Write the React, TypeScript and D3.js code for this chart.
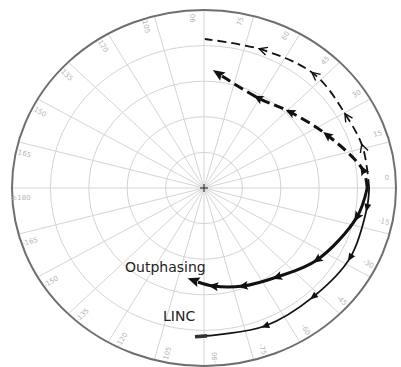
import * as d3 from 'd3';

// Polar grid: phase spokes (degrees) and normalised amplitude rings
const spokeAngles = [0, 15, 30, 45, 60, 75, 90, 105, 120, 135, 150, 165, 180, 195, 210, 225, 240, 255, 270, 285, 300, 315, 330, 345];
const spokeLabels = ['0', '15', '30', '45', '60', '75', '90', '105', '120', '135', '150', '165', '\u00b1180', '-165', '-150', '-135', '-120', '-105', '-90', '-75', '-60', '-45', '-30', '-15'];
const ringLevels = [0.2, 0.4, 0.6, 0.8];

// Trajectories (phase in degrees, normalised magnitude)
const lincUpperAngle = [0, 15.2, 28.2, 47.7, 68.4, 89.7];
const lincUpperRadius = [0.86, 0.858, 0.845, 0.859, 0.834, 0.837];
const lincLowerAngle = [0, -7.5, -27.3, -47.1, -67.7, -89.3];
const lincLowerRadius = [0.86, 0.856, 0.856, 0.835, 0.838, 0.831];
const outUpperAngle = [0, 7, 24.9, 43.6, 61, 81.5];
const outUpperRadius = [0.85, 0.834, 0.707, 0.619, 0.579, 0.636];
const outLowerAngle = [0, -11.6, -34.5, -52.8, -69.8, -85, -93.4];
const outLowerRadius = [0.85, 0.813, 0.714, 0.628, 0.587, 0.553, 0.529];

const W = 401;
const H = 367;
const cx = 204;
const cy = 188;
const rx = d3.scaleLinear().domain([0, 1]).range([0, 192]);
const ry = d3.scaleLinear().domain([0, 1]).range([0, 178]);

const px = (deg: number, r: number) => cx + rx(r) * Math.cos((deg * Math.PI) / 180);
const py = (deg: number, r: number) => cy - ry(r) * Math.sin((deg * Math.PI) / 180);

type P = [number, number];
const zipPts = (a: number[], r: number[]): P[] => a.map((d, i) => [d, r[i]] as P);

const lineGen = d3
  .line<P>()
  .x((d) => px(d[0], d[1]))
  .y((d) => py(d[0], d[1]))
  .curve(d3.curveCatmullRom.alpha(0.5));

export default function App() {
  const labelR = 0.955;
  return (
    <svg
      width={W}
      height={H}
      style={{ position: 'absolute', left: 0, top: 0, background: '#fff' }}
      fontFamily="DejaVu Sans, sans-serif"
    >
      <defs>
        <marker id="triBig" viewBox="-6 -5 12 10" refX={0} refY={0} markerWidth={12} markerHeight={10} markerUnits="userSpaceOnUse" orient="auto">
          <path d="M5,0 L-5,-4.5 L-3,0 L-5,4.5 Z" fill="#111" />
        </marker>
        <marker id="triEnd" viewBox="-2 -6 14 12" refX={0} refY={0} markerWidth={14} markerHeight={12} markerUnits="userSpaceOnUse" orient="auto">
          <path d="M11,0 L-1,-5 L1,0 L-1,5 Z" fill="#111" />
        </marker>
        <marker id="triSmall" viewBox="-5 -4 10 8" refX={0} refY={0} markerWidth={10} markerHeight={8} markerUnits="userSpaceOnUse" orient="auto">
          <path d="M4,0 L-4,-3.5 L-4,3.5 Z" fill="#111" />
        </marker>
        <marker id="chevron" viewBox="-6 -5 12 10" refX={0} refY={0} markerWidth={12} markerHeight={10} markerUnits="userSpaceOnUse" orient="auto">
          <path d="M-4,-4 L4,0 L-4,4" fill="none" stroke="#111" strokeWidth={1.4} />
        </marker>
        <marker id="barEnd" viewBox="-1 -3 16 6" refX={0} refY={0} markerWidth={16} markerHeight={6} markerUnits="userSpaceOnUse" orient="auto">
          <rect x={-1} y={-1.8} width={12} height={3.6} fill="#333" />
        </marker>
      </defs>

      {/* rings */}
      {ringLevels.map((r) => (
        <ellipse key={r} cx={cx} cy={cy} rx={rx(r)} ry={ry(r)} fill="none" stroke="#d4d4d4" strokeWidth={1} />
      ))}

      {/* spokes */}
      {spokeAngles.map((a) => (
        <line key={a} x1={cx} y1={cy} x2={px(a, 1)} y2={py(a, 1)} stroke="#d4d4d4" strokeWidth={1} />
      ))}

      {/* outer boundary */}
      <ellipse cx={cx} cy={cy} rx={rx(1)} ry={ry(1)} fill="none" stroke="#6e6e6e" strokeWidth={2} />

      {/* phase labels */}
      {spokeAngles.map((a, i) => {
        const la = a + 3.5;
        const x = px(la, labelR);
        const y = py(la, labelR);
        const norm = ((a % 360) + 360) % 360;
        const rot = norm > 90 && norm <= 270 ? 180 - a : -a;
        return (
          <text
            key={'l' + a}
            x={x}
            y={y}
            transform={`rotate(${rot},${x},${y})`}
            fontSize={7}
            fill="#b5b5b5"
            textAnchor="middle"
            dominantBaseline="middle"
          >
            {spokeLabels[i]}
          </text>
        );
      })}

      {/* centre mark */}
      <line x1={cx - 4} y1={cy} x2={cx + 4} y2={cy} stroke="#222" strokeWidth={1} />
      <line x1={cx} y1={cy - 4} x2={cx} y2={cy + 4} stroke="#222" strokeWidth={1} />

      {/* LINC trajectory */}
      <path
        d={lineGen(zipPts(lincUpperAngle, lincUpperRadius)) || ''}
        fill="none"
        stroke="#111"
        strokeWidth={1.8}
        strokeDasharray="9,5"
        markerMid="url(#chevron)"
      />
      <path
        d={lineGen(zipPts(lincLowerAngle, lincLowerRadius)) || ''}
        fill="none"
        stroke="#111"
        strokeWidth={1.8}
        markerMid="url(#triSmall)"
        markerEnd="url(#barEnd)"
      />

      {/* Outphasing trajectory */}
      <path
        d={lineGen(zipPts(outUpperAngle, outUpperRadius)) || ''}
        fill="none"
        stroke="#111"
        strokeWidth={3}
        strokeDasharray="10,5"
        markerMid="url(#triBig)"
        markerEnd="url(#triEnd)"
      />
      <path
        d={lineGen(zipPts(outLowerAngle, outLowerRadius)) || ''}
        fill="none"
        stroke="#111"
        strokeWidth={3}
        markerMid="url(#triBig)"
        markerEnd="url(#triEnd)"
      />

      {/* series labels */}
      <text x={125} y={272} fontSize={14} fill="#222">Outphasing</text>
      <text x={163} y={321} fontSize={14} fill="#222">LINC</text>
    </svg>
  );
}
